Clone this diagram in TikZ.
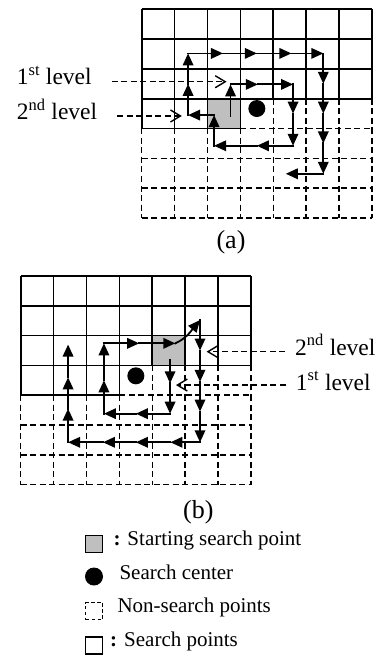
\documentclass[tikz,border=0pt]{standalone}
\usepackage{fontspec}
\setmainfont{Liberation Serif}
\usetikzlibrary{arrows.meta}

\begin{document}
\begin{tikzpicture}[
    x=1pt, y=-1pt,
    gline/.style={line width=1.7pt},
    dline/.style={line width=1.5pt, dash pattern=on 6pt off 3.5pt},
    startcell/.style={fill=black!25},
    sdot/.style={circle, fill=black, minimum size=17pt, inner sep=0pt},
    walk/.style={-{Triangle[length=12pt,width=10.5pt]}, line width=1.8pt, line cap=rect},
    lvl/.style={dline, -{Straight Barb[length=10pt,width=12pt,line width=1.4pt]}},
    lbl/.style={font=\fontsize{23.5}{28}\selectfont, inner sep=0pt, anchor=base west},
    subcap/.style={font=\fontsize{26}{30}\selectfont, inner sep=0pt},
    leg/.style={font=\fontsize{21}{25}\selectfont, inner sep=0pt, anchor=base west},
    legsq/.style={draw, line width=1.3pt, minimum size=17pt, inner sep=0pt},
    sgrid/.pic={
      \foreach \i in {0,...,7} \draw[gline] (\i,0) -- (\i,3);
      \foreach \j in {0,...,3} \draw[gline] (0,\j) -- (7,\j);
      \foreach \i in {0,...,3} \draw[gline] (\i,3) -- (\i,4);
      \draw[gline] (0,4) -- (3,4);
      \foreach \i in {4,...,7} \draw[dline] (\i,3) -- (\i,4);
      \draw[dline] (3,4) -- (7,4);
      \foreach \i in {0,...,7} \draw[dline] (\i,4) -- (\i,7);
      \foreach \j in {5,...,7} \draw[dline] (0,\j) -- (7,\j);
    }
  ]
  \useasboundingbox (0,0) rectangle (381,655);

  % ===== (a): search starts left of the center =====
  \begin{scope}[xshift=141.7pt, yshift=-9.3pt, x=32.9pt, y=-29.8pt]
    \fill[startcell] (2,3) rectangle (3,4);
    \pic {sgrid};
    \node[sdot] (ctra) at (3.5,3.33) {};
    \foreach \x/\y [remember=\x as \lx (initially 2.7), remember=\y as \ly (initially 3.6)] in
      {2.7/2.52, 3.53/2.52, 4.6/2.52, 4.6/3.5, 4.6/4.58, 3.5/4.58, 2.2/4.58, 2.2/3.55,
       1.41/3.55, 1.41/2.5, 1.41/1.48, 2.47/1.48, 3.5/1.48, 4.55/1.48, 5.52/1.48,
       5.52/2.5, 5.52/3.5, 5.52/4.5, 5.52/5.52, 4.38/5.52}
      \draw[walk] (\lx,\ly) -- (\x,\y);
    \coordinate (tipa1) at (2.58,2.43);
    \coordinate (tipa2) at (1.22,3.58);
  \end{scope}
  \node[lbl] (la1) at (16.7,85) {1\textsuperscript{st} level};
  \node[lbl] (la2) at (16.7,120) {2\textsuperscript{nd} level};
  \draw[lvl, shorten <=20pt] (la1.east |- tipa1) -- (tipa1);
  \draw[lvl, shorten <=20pt] (la2.east |- tipa2) -- (tipa2);
  \node[subcap] (capa) at (231,242) {(a)};

  % ===== (b): search starts up right of the center =====
  \begin{scope}[xshift=20.7pt, yshift=-276pt, x=32.9pt, y=-29.8pt]
    \fill[startcell] (4,2) rectangle (5,3);
    \pic {sgrid};
    \node[sdot] (ctrb) at (3.5,3.35) {};
    \foreach \x/\y [remember=\x as \lx (initially 4.54), remember=\y as \ly (initially 2.82)] in
      {4.54/3.6, 4.54/4.62, 3.5/4.62, 2.53/4.62, 2.53/3.5, 2.53/2.26, 3.6/2.26, 4.7/2.26}
      \draw[walk] (\lx,\ly) -- (\x,\y);
    \draw[walk] (4.7,2.26) to[out=25,in=230] (5.45,1.48);
    \foreach \x/\y [remember=\x as \lx (initially 5.45), remember=\y as \ly (initially 1.48)] in
      {5.45/2.5, 5.45/3.55, 5.45/4.55, 5.45/5.58, 4.55/5.58, 3.5/5.58, 2.5/5.58, 1.44/5.58,
       1.44/4.45, 1.44/3.4, 1.44/2.3}
      \draw[walk] (\lx,\ly) -- (\x,\y);
    \coordinate (tipb2) at (5.65,2.54);
    \coordinate (tipb1) at (4.72,3.66);
  \end{scope}
  \node[lbl] (lb2) at (295,355) {2\textsuperscript{nd} level};
  \node[lbl] (lb1) at (295.7,390) {1\textsuperscript{st} level};
  \draw[lvl, shorten <=10pt] (lb2.west |- tipb2) -- (tipb2);
  \draw[lvl, shorten <=10pt] (lb1.west |- tipb1) -- (tipb1);
  \node[subcap] (capb) at (198.3,512.5) {(b)};

  % ===== legend =====
  \node[legsq, fill=black!25] (kstart) at (94.3,543.8) {};
  \node[leg] (tstart) at (113.3,545) {\textbf{:} Starting search point};
  \node[sdot, minimum size=18pt] (kctr) at (94,576.5) {};
  \node[leg] (tctr) at (119.3,579) {Search center};
  \node[legsq, dash pattern=on 3.5pt off 2.5pt] (knon) at (94.3,611) {};
  \node[leg] (tnon) at (117.3,612.7) {Non-search points};
  \node[legsq] (ksrch) at (94.3,645.5) {};
  \node[leg] (tsrch) at (110,646.7) {\textbf{:} Search points};
\end{tikzpicture}
\end{document}
